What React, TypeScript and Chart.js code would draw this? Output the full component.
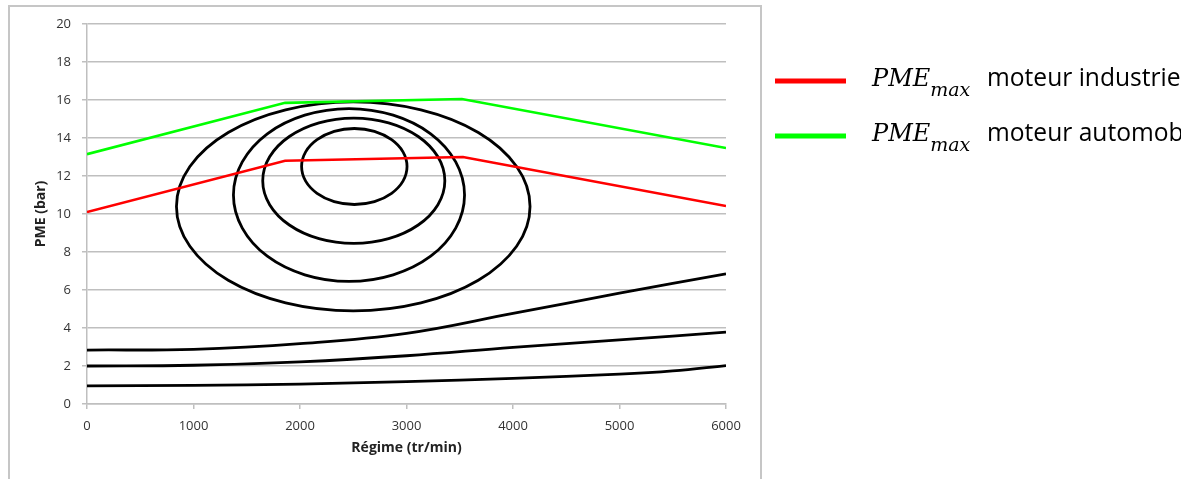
import React, { useEffect, useRef } from "react";
import { Chart, registerables } from "chart.js";

Chart.register(...registerables);

// ---- Tick values ----
const X_TICKS = [0, 1000, 2000, 3000, 4000, 5000, 6000];
const X_TICK_LABELS = ["0", "1000", "2000", "3000", "4000", "5000", "6000"];
const Y_TICKS = [0, 2, 4, 6, 8, 10, 12, 14, 16, 18, 20];
const Y_TICK_LABELS = ["0", "2", "4", "6", "8", "10", "12", "14", "16", "18", "20"];

// ---- PME max lines ----
const industrielRpm = [0, 1860, 3530, 6000];
const industrielPme = [10.1, 12.8, 13.0, 10.42];
const automobileRpm = [0, 1860, 3520, 6000];
const automobilePme = [13.15, 15.85, 16.05, 13.47];

// ---- Iso-consumption loops (closed) ----
const iso1Rpm = [4160, 4034, 3674, 3135, 2500, 1865, 1326, 966, 840, 966, 1326, 1865, 2500, 3135, 3674, 4034, 4160];
const iso1Pme = [10.4, 12.5, 14.29, 15.48, 15.9, 15.48, 14.29, 12.5, 10.4, 8.3, 6.51, 5.32, 4.9, 5.32, 6.51, 8.3, 10.4];
const iso2Rpm = [3545, 3462, 3227, 2875, 2460, 2045, 1693, 1458, 1375, 1458, 1693, 2045, 2460, 2875, 3227, 3462, 3545];
const iso2Pme = [11.0, 12.74, 14.22, 15.2, 15.55, 15.2, 14.22, 12.74, 11.0, 9.26, 7.78, 6.8, 6.45, 6.8, 7.78, 9.26, 11.0];
const iso3Rpm = [3360, 3295, 3110, 2832, 2505, 2178, 1900, 1715, 1650, 1715, 1900, 2178, 2505, 2832, 3110, 3295, 3360];
const iso3Pme = [11.75, 13.01, 14.08, 14.8, 15.05, 14.8, 14.08, 13.01, 11.75, 10.49, 9.42, 8.7, 8.45, 8.7, 9.42, 10.49, 11.75];
const iso4Rpm = [3005, 2967, 2860, 2699, 2510, 2321, 2160, 2053, 2015, 2053, 2160, 2321, 2510, 2699, 2860, 2967, 3005];
const iso4Pme = [12.5, 13.27, 13.91, 14.35, 14.5, 14.35, 13.91, 13.27, 12.5, 11.73, 11.09, 10.65, 10.5, 10.65, 11.09, 11.73, 12.5];

// ---- Low-load curves ----
const low1Rpm = [0, 1000, 2000, 3000, 4000, 5000, 6000];
const low1Pme = [2.84, 2.88, 3.18, 3.72, 4.77, 5.83, 6.85];
const low2Rpm = [0, 1000, 2000, 3000, 4000, 5000, 6000];
const low2Pme = [2.0, 2.04, 2.22, 2.54, 2.98, 3.37, 3.78];
const low3Rpm = [0, 1000, 2000, 3000, 4000, 5000, 5500, 6000];
const low3Pme = [0.95, 0.98, 1.05, 1.18, 1.35, 1.57, 1.74, 2.02];

// ---- Legend ----
const LEGEND_LABELS = ["moteur industriel", "moteur automobile"];
const LEGEND_COLORS = ["#ff0000", "#00ff00"];

const pts = (xs: number[], ys: number[]) => xs.map((x, i) => ({ x, y: ys[i] }));
// closed loop: add one neighbour on each side so the spline is smooth where it closes;
// the two helper segments are made transparent below
const loopPts = (xs: number[], ys: number[]) => {
  const p = pts(xs, ys);
  const n = p.length;
  return [p[n - 2], ...p, p[1]];
};

const framePlugin = {
  id: "frame",
  beforeDraw(chart: any) {
    const ctx = chart.ctx;
    ctx.save();
    ctx.fillStyle = "#ffffff";
    ctx.fillRect(0, 0, chart.width, chart.height);
    ctx.strokeStyle = "#c6c6c6";
    ctx.lineWidth = 2;
    ctx.strokeRect(9, 6, 752, 520);
    ctx.restore();
  },
};

const legendPlugin = {
  id: "mathLegend",
  afterDraw(chart: any) {
    const ctx = chart.ctx;
    ctx.save();
    LEGEND_LABELS.forEach((label, i) => {
      const base = 86 + i * 55;
      ctx.fillStyle = LEGEND_COLORS[i];
      ctx.fillRect(775, base - 7.5, 71, 5);
      ctx.fillStyle = "#000000";
      ctx.textBaseline = "alphabetic";
      ctx.textAlign = "left";
      ctx.font = 'italic 24px "DejaVu Serif"';
      ctx.fillText("PME", 872, base);
      const w = ctx.measureText("PME").width;
      ctx.font = 'italic 19px "DejaVu Serif"';
      ctx.fillText("max", 872 + w, base + 10);
      ctx.font = '24.6px "Open Sans"';
      ctx.fillText(label, 987, base);
    });
    ctx.restore();
  },
};

export default function App() {
  const ref = useRef<HTMLCanvasElement | null>(null);

  useEffect(() => {
    if (!ref.current) return;
    const black = (data: any[], loop: boolean) => ({
      data,
      borderColor: "#000000",
      borderWidth: 2.8,
      pointRadius: 0,
      showLine: true,
      fill: false,
      tension: loop ? 0.35 : 0.4,
      segment: loop
        ? {
            borderColor: (c: any) =>
              c.p0DataIndex === 0 || c.p1DataIndex === data.length - 1 ? "rgba(0,0,0,0)" : "#000000",
          }
        : undefined,
    });
    const chart = new Chart(ref.current, {
      type: "scatter",
      data: {
        datasets: [
          { label: "PMEmax moteur industriel", data: pts(industrielRpm, industrielPme), borderColor: LEGEND_COLORS[0], borderWidth: 2.6, pointRadius: 0, showLine: true, tension: 0 },
          { label: "PMEmax moteur automobile", data: pts(automobileRpm, automobilePme), borderColor: LEGEND_COLORS[1], borderWidth: 2.6, pointRadius: 0, showLine: true, tension: 0 },
          black(loopPts(iso1Rpm, iso1Pme), true),
          black(loopPts(iso2Rpm, iso2Pme), true),
          black(loopPts(iso3Rpm, iso3Pme), true),
          black(loopPts(iso4Rpm, iso4Pme), true),
          black(pts(low1Rpm, low1Pme), false),
          black(pts(low2Rpm, low2Pme), false),
          black(pts(low3Rpm, low3Pme), false),
        ] as any,
      },
      options: {
        animation: false,
        responsive: false,
        events: [],
        layout: { padding: { left: 20, top: 24, right: 455, bottom: 15 } },
        plugins: { legend: { display: false }, tooltip: { enabled: false } },
        scales: {
          x: {
            type: "linear",
            min: 0,
            max: 6000,
            afterBuildTicks: (s: any) => { s.ticks = X_TICKS.map((v) => ({ value: v })); },
            afterFit: (s: any) => { s.height = 60; },
            grid: { drawOnChartArea: false, drawTicks: true, tickLength: 5, color: "#bfbfbf", lineWidth: 1.5 },
            border: { display: true, color: "#bfbfbf", width: 1.5 },
            ticks: {
              padding: 9,
              color: "#333333",
              font: { family: "Open Sans", size: 13 },
              maxRotation: 0,
              callback: (v: number) => X_TICK_LABELS[X_TICKS.indexOf(v)] ?? "",
            },
            title: { display: true, text: "Régime (tr/min)", color: "#222222", font: { family: "Open Sans", size: 14, weight: "bold" }, padding: { top: 0, bottom: 8 } },
          },
          y: {
            type: "linear",
            min: 0,
            max: 20,
            afterBuildTicks: (s: any) => { s.ticks = Y_TICKS.map((v) => ({ value: v })); },
            afterFit: (s: any) => { s.width = 67; },
            grid: { drawOnChartArea: true, drawTicks: true, tickLength: 5, color: "#bfbfbf", lineWidth: 1.5 },
            border: { display: true, color: "#bfbfbf", width: 1.5 },
            ticks: {
              padding: 11,
              color: "#333333",
              font: { family: "Open Sans", size: 13 },
              callback: (v: number) => Y_TICK_LABELS[Y_TICKS.indexOf(v)] ?? "",
            },
            title: { display: true, text: "PME (bar)", color: "#222222", font: { family: "Open Sans", size: 14, weight: "bold" }, padding: { top: 13, bottom: 0 } },
          },
        },
      } as any,
      plugins: [framePlugin, legendPlugin],
    });
    return () => chart.destroy();
  }, []);

  return (
    <div style={{ position: "absolute", left: 0, top: 0, width: 1181, height: 479, overflow: "hidden" }}>
      <canvas ref={ref} width={1181} height={479} style={{ display: "block", width: 1181, height: 479 }} />
    </div>
  );
}
